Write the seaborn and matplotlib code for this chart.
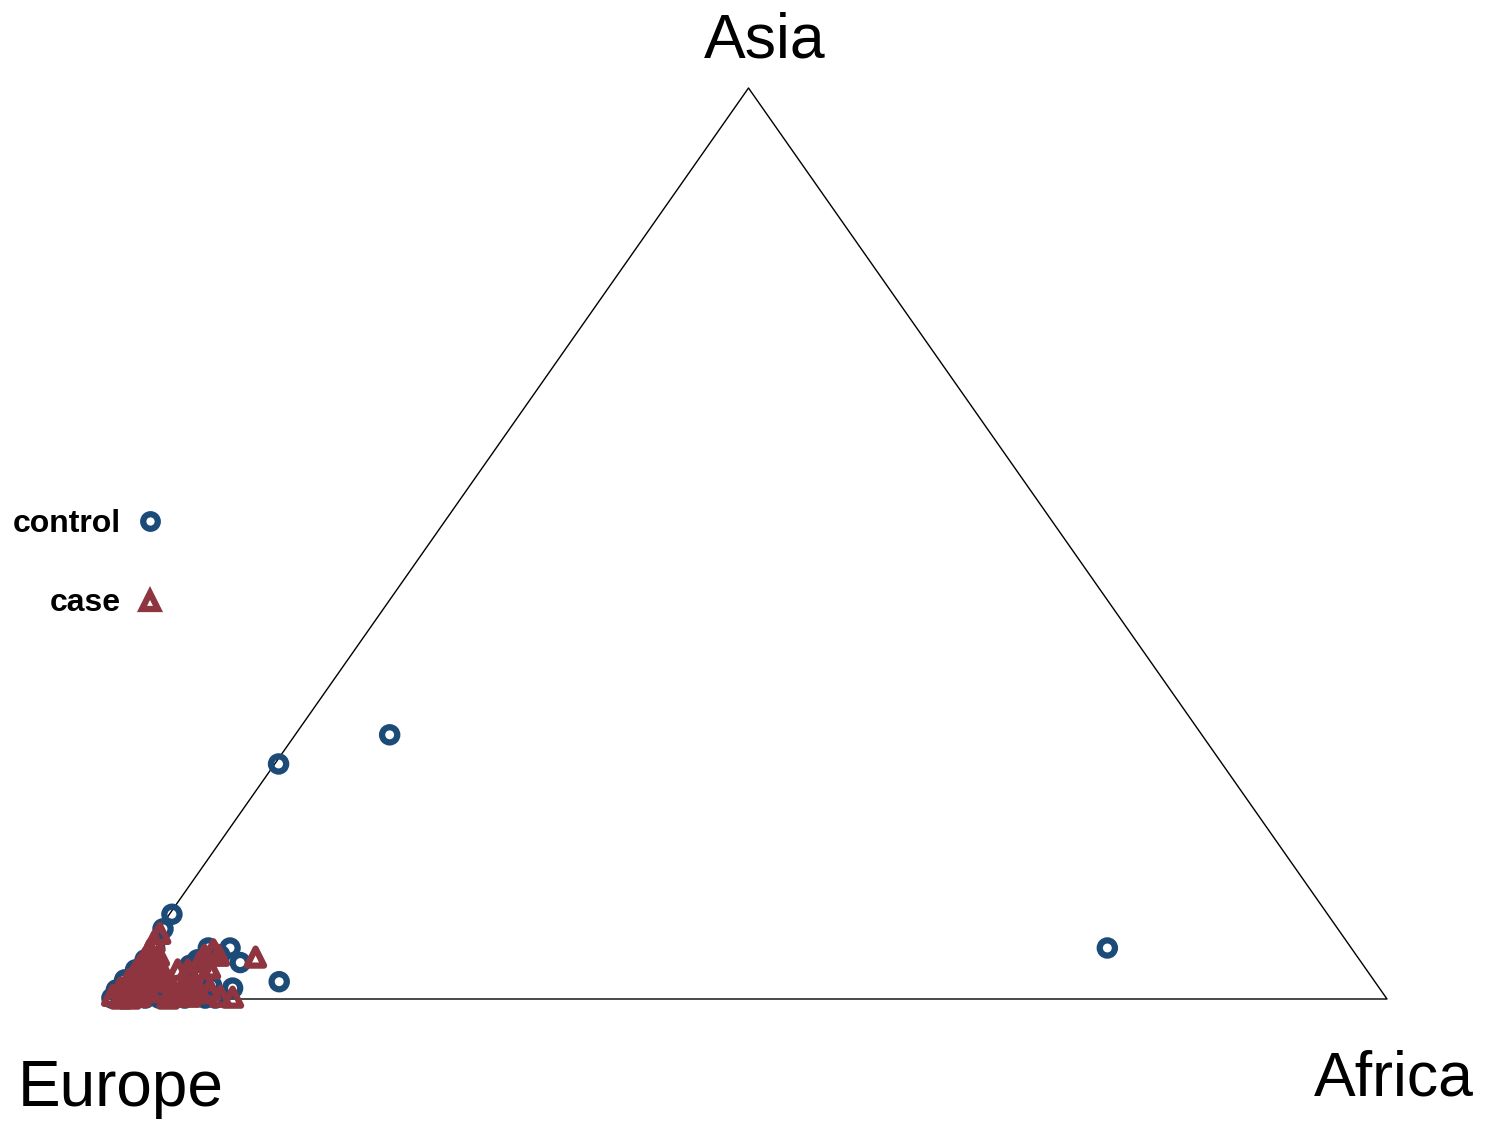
import numpy as np
import pandas as pd
import matplotlib
matplotlib.use("Agg")
import matplotlib.pyplot as plt
from matplotlib.lines import Line2D
import seaborn as sns

# Ancestry proportions (Asia, Africa); Europe is the remainder
control_asia = [0.290, 0.258, 0.056, 0.019, 0.093, 0.077, 0.040, 0.012, 0.056, 0.048,
                0.056, 0.043, 0.037, 0.015, 0.001, 0.001, 0.007, 0.001, 0.001, 0.001,
                0.001, 0.001, 0.001, 0.001, 0.010, 0.021, 0.032, 0.043, 0.056, 0.004,
                0.010, 0.015, 0.010, 0.015, 0.023, 0.026]
control_africa = [0.074, 0.003, 0.753, 0.123, 0.002, 0.003, 0.082, 0.090, 0.066, 0.062,
                  0.049, 0.047, 0.044, 0.072, 0.082, 0.074, 0.063, 0.058, 0.050, 0.038,
                  0.027, 0.015, 0.008, 0.001, 0.000, 0.001, 0.004, 0.006, 0.007, 0.010,
                  0.018, 0.024, 0.038, 0.046, 0.050, 0.057]

case_asia = [0.046, 0.002, 0.072, 0.063, 0.054, 0.045, 0.037, 0.030, 0.021, 0.012,
             0.004, 0.043, 0.037, 0.032, 0.026, 0.019, 0.032, 0.023, 0.015, 0.008,
             0.001, 0.001, 0.003, 0.008, 0.010, 0.004, 0.008, 0.003, 0.007, 0.010,
             0.003, 0.015, 0.021, 0.026, 0.048, 0.032, 0.032, 0.048, 0.054, 0.048,
             0.041, 0.034, 0.021, 0.015, 0.012, 0.001, 0.026]
case_africa = [0.091, 0.095, 0.003, 0.003, 0.004, 0.005, 0.005, 0.005, 0.004, 0.002,
               0.000, 0.010, 0.017, 0.023, 0.030, 0.037, 0.011, 0.012, 0.012, 0.010,
               0.008, 0.015, 0.022, 0.027, 0.034, 0.045, 0.051, 0.061, 0.067, 0.073,
               0.085, 0.020, 0.025, 0.017, 0.014, 0.037, 0.045, 0.050, 0.054, 0.061,
               0.050, 0.061, 0.064, 0.059, 0.053, 0.045, 0.050]

groups = ["control", "case"]
colors = {"control": "#1C4B78", "case": "#8E3540"}
markers = {"control": "o", "case": "^"}
sizes = {"control": 120, "case": 150}

W, H = 1492, 1121
sns.set_style("white")
plt.rcParams["font.family"] = ["Liberation Sans", "DejaVu Sans"]
plt.rcParams["text.color"] = "black"
fig = plt.figure(figsize=(W / 100, H / 100), dpi=100)

# Ternary frame: Europe (0,0), Africa (1,0), Asia (0.5,1)
ax = fig.add_axes([110 / W, 122 / H, 1277 / W, 911 / H])
ax.set_xlim(0, 1)
ax.set_ylim(0, 1)
ax.axis("off")
ax.plot([0, 1, 0.5, 0], [0, 0, 1, 0], color="black", lw=1, clip_on=False, zorder=1)


def to_xy(asia, africa):
    asia = np.asarray(asia)
    africa = np.asarray(africa)
    return africa + asia / 2, asia


frames = []
for g, a_s, a_f in [("control", control_asia, control_africa),
                    ("case", case_asia, case_africa)]:
    x, y = to_xy(a_s, a_f)
    frames.append(pd.DataFrame({"x": x, "y": y, "group": g}))
df = pd.concat(frames, ignore_index=True)

for g in groups:
    sub = df[df["group"] == g]
    sns.scatterplot(data=sub, x="x", y="y", ax=ax, marker=markers[g],
                    s=sizes[g], color=colors[g],
                    facecolors="none", edgecolor=colors[g], linewidth=4.5,
                    clip_on=False, legend=False, zorder=3)
ax.set_xlabel("")
ax.set_ylabel("")

# Vertex labels
fig.text(765 / W, 1 - 58 / H, "Asia", fontsize=45, ha="center", va="baseline", color="black")
fig.text(121 / W, 1 - 1106 / H, "Europe", fontsize=46, ha="center", va="baseline", color="black")
fig.text(1394 / W, 1 - 1096 / H, "Africa", fontsize=45, ha="center", va="baseline", color="black")

# Legend
for g, yc, yb, ms in [("control", 521, 532, 10.5), ("case", 601, 611, 11.5)]:
    fig.text(121 / W, 1 - yb / H, g, fontsize=23, fontweight="bold",
             ha="right", va="baseline", color="black")
    fig.add_artist(Line2D([150 / W], [1 - yc / H], marker=markers[g],
                          markersize=ms, markerfacecolor="none",
                          markeredgecolor=colors[g], markeredgewidth=4.5,
                          linestyle="none", transform=fig.transFigure))

fig.savefig("out.png", dpi=100, facecolor="white")
